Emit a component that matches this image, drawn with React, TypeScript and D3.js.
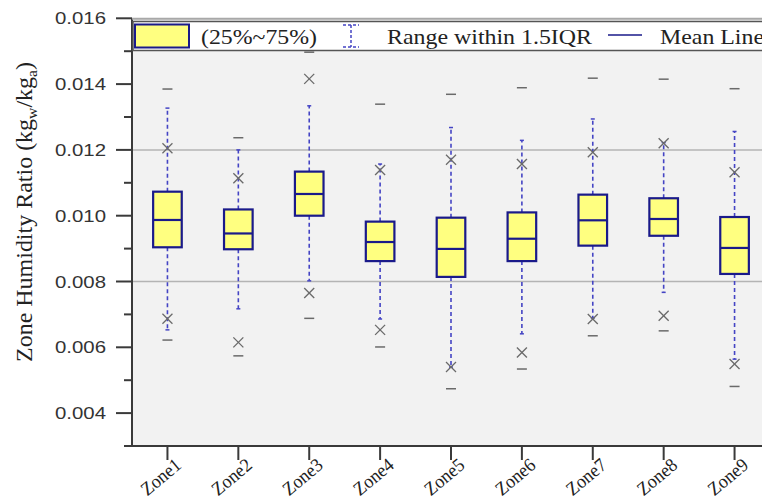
import React from "react";
import * as d3 from "d3";

const zones = ["Zone1", "Zone2", "Zone3", "Zone4", "Zone5", "Zone6", "Zone7", "Zone8", "Zone9"];
const q1 = [0.00904, 0.00898, 0.01000, 0.00862, 0.00814, 0.00862, 0.00909, 0.00939, 0.00823];
const median = [0.00987, 0.00946, 0.01066, 0.00920, 0.00899, 0.00930, 0.00986, 0.00990, 0.00902];
const q3 = [0.01073, 0.01019, 0.01134, 0.00982, 0.00994, 0.01010, 0.01064, 0.01053, 0.00996];
const whiskerLow = [0.00653, 0.00717, 0.00802, 0.00686, 0.00540, 0.00641, 0.00689, 0.00767, 0.00564];
const whiskerHigh = [0.01327, 0.01200, 0.01334, 0.01157, 0.01268, 0.01229, 0.01294, 0.01222, 0.01256];
const pctLow = [0.00687, 0.00615, 0.00765, 0.00653, 0.00540, 0.00584, 0.00686, 0.00696, 0.00549];
const pctHigh = [0.01205, 0.01114, 0.01416, 0.01139, 0.01170, 0.01157, 0.01193, 0.01220, 0.01132];
const minVal = [0.00622, 0.00574, 0.00688, 0.00601, 0.00474, 0.00534, 0.00635, 0.00650, 0.00481];
const maxVal = [0.01385, 0.01237, 0.01497, 0.01339, 0.01369, 0.01389, 0.01418, 0.01415, 0.01386];
const majorTicks = [0.004, 0.006, 0.008, 0.010, 0.012, 0.014, 0.016];
const minorTicks = [0.005, 0.007, 0.009, 0.011, 0.013, 0.015];
const gridTicks = [0.008, 0.012];
const legendLabels = ["(25%~75%)", "Range within 1.5IQR", "Mean Line"];

const W = 762;
const H = 503;
const left = 132;
const right = 770;
const top = 18.3;
const bottom = 446;

const SERIF = "'Liberation Serif', 'Times New Roman', serif";
const SANS = "'Liberation Sans', Arial, sans-serif";
const NAVY = "#1a1a8a";
const DASHBLUE = "#4444c4";
const GRAYMARK = "#6a6a6a";

export default function App() {
  const y = d3.scaleLinear().domain([0.003, 0.016]).range([bottom, top]);
  const x = d3.scaleBand<string>().domain(zones).range([left, right]).padding(0);
  const cx = (z: string) => (x(z) as number) + x.bandwidth() / 2;
  const bw = 28.6;
  const fmt = d3.format(".3f");

  return (
    <svg width={W} height={H} style={{ position: "absolute", left: 0, top: 0, background: "#fff" }}>
      <rect x={left} y={top} width={right - left} height={bottom - top} fill="#f2f2f2" />
      {gridTicks.map((t) => (
        <line key={"g" + t} x1={left} x2={right} y1={y(t)} y2={y(t)} stroke="#b4b4b4" strokeWidth={1.5} />
      ))}

      {zones.map((z, i) => {
        const c = cx(z);
        return (
          <g key={z}>
            <line x1={c} x2={c} y1={y(q3[i])} y2={y(whiskerHigh[i])} stroke={DASHBLUE} strokeWidth={1.6} strokeDasharray="4,3" />
            <line x1={c} x2={c} y1={y(q1[i])} y2={y(whiskerLow[i])} stroke={DASHBLUE} strokeWidth={1.6} strokeDasharray="4,3" />
            <line x1={c - 2} x2={c + 2} y1={y(whiskerHigh[i])} y2={y(whiskerHigh[i])} stroke={DASHBLUE} strokeWidth={1.5} />
            <line x1={c - 2} x2={c + 2} y1={y(whiskerLow[i])} y2={y(whiskerLow[i])} stroke={DASHBLUE} strokeWidth={1.5} />
            <rect x={c - bw / 2} y={y(q3[i])} width={bw} height={y(q1[i]) - y(q3[i])} fill="#ffff80" stroke={NAVY} strokeWidth={2.2} />
            <line x1={c - bw / 2} x2={c + bw / 2} y1={y(median[i])} y2={y(median[i])} stroke={NAVY} strokeWidth={2.2} />
            {[pctLow[i], pctHigh[i]].map((v, k) => (
              <g key={"x" + k} transform={`translate(${c},${y(v)})`} stroke={GRAYMARK} strokeWidth={1.3}>
                <line x1={-5} y1={-5} x2={5} y2={5} />
                <line x1={-5} y1={5} x2={5} y2={-5} />
              </g>
            ))}
            {[minVal[i], maxVal[i]].map((v, k) => (
              <line key={"m" + k} x1={c - 5} x2={c + 5} y1={y(v)} y2={y(v)} stroke={GRAYMARK} strokeWidth={1.5} />
            ))}
          </g>
        );
      })}

      <line x1={left} x2={left} y1={top} y2={bottom} stroke="#3a3a3a" strokeWidth={2} />
      <line x1={124} x2={right} y1={bottom} y2={bottom} stroke="#3a3a3a" strokeWidth={2} />
      <line x1={left} x2={right} y1={top + 0.5} y2={top + 0.5} stroke="#a8a8a8" strokeWidth={2} />
      {majorTicks.map((t) => (
        <g key={"t" + t}>
          <line x1={116} x2={left} y1={y(t)} y2={y(t)} stroke="#3a3a3a" strokeWidth={2} />
          <text x={106} y={y(t) + 6} textAnchor="end" fontFamily={SANS} fontSize={16.5} fill="#333" textLength={51} lengthAdjust="spacingAndGlyphs">
            {fmt(t)}
          </text>
        </g>
      ))}
      {minorTicks.map((t) => (
        <line key={"mt" + t} x1={124} x2={left} y1={y(t)} y2={y(t)} stroke="#3a3a3a" strokeWidth={2} />
      ))}
      {zones.map((z) => (
        <g key={"xt" + z}>
          <line x1={cx(z)} x2={cx(z)} y1={bottom} y2={460} stroke="#3a3a3a" strokeWidth={2} />
          <text transform={`translate(${cx(z) + 15},${467}) rotate(-40)`} textAnchor="end" fontFamily={SERIF} fontSize={19} fill="#222" textLength={46} lengthAdjust="spacingAndGlyphs">
            {z}
          </text>
        </g>
      ))}

      <text transform={`translate(32,${212}) rotate(-90)`} textAnchor="middle" fontFamily={SERIF} fontSize={23} fill="#222" textLength={300} lengthAdjust="spacingAndGlyphs">
        Zone Humidity Ratio (kg<tspan fontSize={15} dy={5}>w</tspan><tspan dy={-5}>/kg</tspan><tspan fontSize={15} dy={5}>a</tspan><tspan dy={-5}>)</tspan>
      </text>

      <rect x={133} y={21.5} width={660} height={29} fill="#fff" stroke="#555" strokeWidth={1.5} />
      <rect x={135} y={24.5} width={54} height={23} fill="#ffff80" stroke={NAVY} strokeWidth={2} />
      <text x={201} y={43.5} fontFamily={SERIF} fontSize={21} fill="#222" textLength={116} lengthAdjust="spacingAndGlyphs">
        {legendLabels[0]}
      </text>
      <g stroke={DASHBLUE} strokeWidth={1.5} strokeDasharray="3,2">
        <line x1={343} x2={359} y1={25} y2={25} />
        <line x1={343} x2={359} y1={47} y2={47} />
        <line x1={351} x2={351} y1={25} y2={47} />
      </g>
      <text x={387} y={43.5} fontFamily={SERIF} fontSize={21} fill="#222" textLength={205} lengthAdjust="spacingAndGlyphs">
        {legendLabels[1]}
      </text>
      <line x1={608} x2={642} y1={35} y2={35} stroke={NAVY} strokeWidth={1.6} />
      <text x={660} y={43.5} fontFamily={SERIF} fontSize={21} fill="#222" textLength={104} lengthAdjust="spacingAndGlyphs">
        {legendLabels[2]}
      </text>
    </svg>
  );
}
